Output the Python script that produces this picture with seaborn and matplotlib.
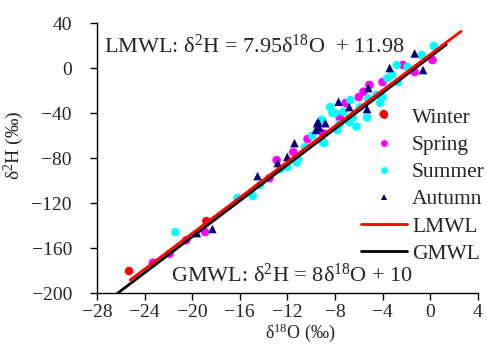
import numpy as np
import pandas as pd
import matplotlib
matplotlib.use('Agg')
import matplotlib.pyplot as plt
import seaborn as sns

sns.set_style('ticks')
plt.rcParams['font.family'] = ['Liberation Serif', 'DejaVu Serif']
plt.rcParams['mathtext.fontset'] = 'custom'
plt.rcParams['mathtext.rm'] = 'Liberation Serif'
plt.rcParams['mathtext.it'] = 'Liberation Serif'

# isotope samples (d18O, d2H)
winter_x = [-25.3, -18.8, -3.9]
winter_y = [-180.4, -136.0, -40.9]

spring_x = [-23.3, -21.9, -20.5, -18.9, -13.5, -12.9, -11.5, -10.3, -7.1,
            -6.0, -5.1, -5.6, -4.0, -2.3, -1.3, 0.2, -9.0, -7.6]
spring_y = [-173.0, -165.0, -153.0, -145.8, -97.8, -81.8, -74.7, -63.1, -31.1,
            -25.8, -15.0, -21.0, -12.4, 2.7, -3.6, 7.1, -58.0, -44.0]

summer_x = [-21.4, -14.9, -16.2, -14.3, -12.0, -11.1, -11.2, -9.9, -8.9,
            -8.0, -7.8, -9.1, -8.2, -7.3, -6.5, -5.3, -4.2, -4.5, -3.6,
            -2.7, -2.8, -1.9, 0.3, -0.7, -5.2, -5.9, -6.7, -8.4, -4.0,
            -9.0, -6.8, -6.2, -7.6, -10.5, -3.2, -12.6]
summer_y = [-145.8, -113.8, -115.5, -104.0, -88.0, -81.0, -84.0, -60.0, -66.7,
            -40.0, -55.0, -46.0, -40.0, -39.0, -44.0, -44.0, -31.0, -24.0, -9.0,
            -12.4, 2.7, 0.9, 19.6, 11.6, -27.0, -34.7, -28.4, -34.7, -25.8,
            -65.8, -48.0, -52.0, -50.0, -70.0, -6.0, -90.0]

autumn_x = [-19.6, -18.3, -14.5, -12.8, -12.0, -11.4, -9.5, -9.3, -8.8,
            -9.6, -7.7, -6.8, -5.3, -5.2, -3.4, -1.3, -0.6, -9.4]
autumn_y = [-146.7, -143.0, -96.0, -84.4, -79.0, -66.7, -49.0, -53.0, -49.0,
            -55.0, -30.0, -34.7, -36.4, -17.8, 0.0, 13.0, -1.8, -48.0]

# meteoric water lines
lmwl_x = [-25.2, 2.6]
gmwl_x = [-26.25, 1.35]

frames = []
for name, xs, ys in [('Winter', winter_x, winter_y), ('Spring', spring_x, spring_y),
                     ('Summer', summer_x, summer_y), ('Autumn', autumn_x, autumn_y)]:
    frames.append(pd.DataFrame({'d18O': xs, 'd2H': ys, 'season': name}))
df = pd.concat(frames, ignore_index=True)

lines = pd.concat([
    pd.DataFrame({'d18O': lmwl_x, 'd2H': [7.95 * v + 11.98 for v in lmwl_x], 'line': 'LMWL'}),
    pd.DataFrame({'d18O': gmwl_x, 'd2H': [8 * v + 10 for v in gmwl_x], 'line': 'GMWL'}),
], ignore_index=True)

fig = plt.figure(figsize=(4.87, 3.44), dpi=100)
ax = fig.add_axes([0.199, 0.148, 0.782, 0.785])

palette = {'Winter': '#ff0000', 'Spring': '#ff00ff', 'Summer': '#00ffff', 'Autumn': '#000080'}
markers = {'Winter': 'o', 'Spring': 'o', 'Summer': 'o', 'Autumn': '^'}
sns.scatterplot(data=df, x='d18O', y='d2H', hue='season', style='season',
                palette=palette, markers=markers, s=38, linewidth=0, ax=ax)
sns.lineplot(data=lines, x='d18O', y='d2H', hue='line',
             palette={'LMWL': '#ff0000', 'GMWL': '#000000'},
             hue_order=['GMWL', 'LMWL'], linewidth=2, ax=ax, zorder=3)

ax.set_xlim(-28, 4)
ax.set_ylim(-200, 40)
ax.set_xticks(np.arange(-28, 5, 4))
ax.set_yticks(np.arange(-200, 41, 40))
ax.tick_params(labelsize=14, direction='out', length=5, width=1, color='black')
ax.tick_params(axis='y', pad=13)
ax.tick_params(axis='x', pad=3)
for s in ['top', 'right']:
    ax.spines[s].set_visible(False)
for s in ['left', 'bottom']:
    ax.spines[s].set_color('black')
    ax.spines[s].set_linewidth(1)

ax.set_xlabel('δ$^{18}$O (‰)', fontsize=13)
ax.set_ylabel('δ$^{2}$H (‰)', fontsize=14)
ax.xaxis.set_label_coords(0.535, -0.106)
ax.yaxis.set_label_coords(-0.186, 0.548)

ax.text(-27.4, 19, 'LMWL: δ$^{2}$H = 7.95δ$^{18}$O  + 11.98', fontsize=16, va='center')
ax.text(-21.8, -184, 'GMWL: δ$^{2}$H = 8δ$^{18}$O + 10', fontsize=16, va='center')

handles, labels = ax.get_legend_handles_labels()
hmap = dict(zip(labels, handles))
order = ['Winter', 'Spring', 'Summer', 'Autumn', 'LMWL', 'GMWL']
ax.legend([hmap[k] for k in order], order, loc='upper left', bbox_to_anchor=(0.672, 0.718),
          frameon=False, fontsize=15.5, handlelength=2.1, handletextpad=0.25,
          labelspacing=0.33, borderaxespad=0, markerscale=0.8)

fig.savefig('out.png', dpi=100)
